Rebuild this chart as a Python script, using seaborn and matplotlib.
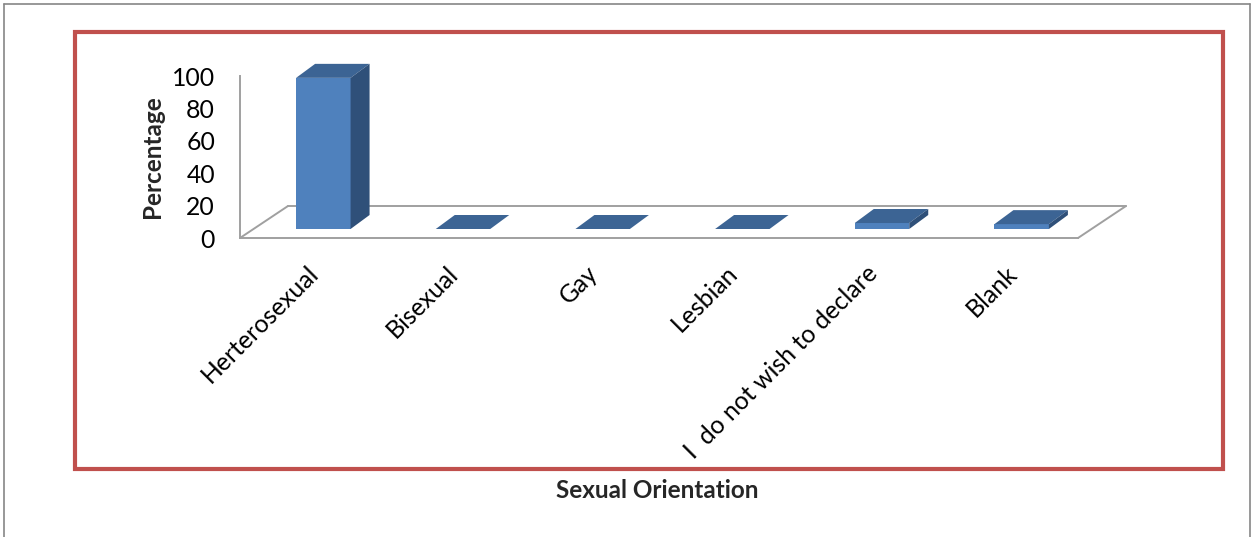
import matplotlib
matplotlib.use("Agg")
import matplotlib.pyplot as plt
import matplotlib.transforms as mtransforms
from matplotlib.patches import Polygon, Rectangle
from matplotlib.lines import Line2D
import seaborn as sns
import pandas as pd

# Survey responses by sexual orientation (percent of respondents)
categories = ["Herterosexual", "Bisexual", "Gay", "Lesbian",
              "I  do not wish to declare", "Blank"]
percentages = [93.3, 0.0, 0.0, 0.0, 3.7, 3.0]
y_ticks = [0, 20, 40, 60, 80, 100]

FRONT = "#4F81BD"
TOP = "#3C6494"
SIDE = "#2F5079"
FLOOR = "#A0A0A0"
FRAME_RED = "#C0504D"

W, H, DPI = 1253, 537, 100
sns.set_theme(style="white")
plt.rcParams["font.family"] = ["Lato", "DejaVu Sans"]

fig = plt.figure(figsize=(W / DPI, H / DPI), dpi=DPI)
fig.patch.set_facecolor("white")

# plot region (front plane of the pseudo-3D box), in pixels from top-left
ax_l, ax_r, ax_t, ax_b = 240, 1078, 76, 238
ax = fig.add_axes([ax_l / W, 1 - ax_b / H, (ax_r - ax_l) / W, (ax_b - ax_t) / H])
ax.set_facecolor("none")

df = pd.DataFrame({"cat": categories, "pct": percentages})
sns.barplot(data=df, x="cat", y="pct", color=FRONT, saturation=1,
            width=0.39, linewidth=0, ax=ax, zorder=3)
ax.set_xlim(-0.5, len(categories) - 0.5)
ax.set_ylim(0, 100)

# pixel -> data conversions for the oblique depth offsets
px_x = (ax_r - ax_l) / (len(categories))
px_y = (ax_b - ax_t) / 100.0


def off(dxp, dyp):
    return dxp / px_x, dyp / px_y


fdx, fdy = off(48, 32)      # floor depth
bsx, bsy = off(13.5, 9)     # bar front face sits partway into the depth
bdx, bdy = off(19, 14)      # bar depth

# floor outline (front edge is the bottom spine)
x0, x1 = -0.5, len(categories) - 0.5
for xs, ys in [([x0, x0 + fdx], [0, fdy]),
               ([x0 + fdx, x1 + fdx], [fdy, fdy]),
               ([x1 + fdx, x1], [fdy, 0])]:
    ax.add_line(Line2D(xs, ys, color=FLOOR, lw=1.4, clip_on=False, zorder=1))

# extrude each seaborn bar into a box
for patch in ax.patches:
    bx = patch.get_x() + bsx
    bw = patch.get_width()
    bh = patch.get_height()
    patch.set_x(bx)
    patch.set_y(bsy)
    patch.set_clip_on(False)
    top = bsy + bh
    ax.add_patch(Polygon([(bx, top), (bx + bw, top), (bx + bw + bdx, top + bdy),
                          (bx + bdx, top + bdy)], closed=True, facecolor=TOP,
                         edgecolor="none", clip_on=False, zorder=4))
    if bh > 0:
        ax.add_patch(Polygon([(bx + bw, bsy), (bx + bw, top), (bx + bw + bdx, top + bdy),
                              (bx + bw + bdx, bsy + bdy)], closed=True, facecolor=SIDE,
                             edgecolor="none", clip_on=False, zorder=4))

# axes styling
for s in ["top", "right"]:
    ax.spines[s].set_visible(False)
for s in ["left", "bottom"]:
    ax.spines[s].set_color(FLOOR)
    ax.spines[s].set_linewidth(1.4)

ax.set_yticks(y_ticks)
ax.set_yticklabels([str(v) for v in y_ticks], fontsize=17.8)
ax.tick_params(axis="y", direction="out", length=5, width=1.2, color=FLOOR,
               pad=13, labelcolor="black")

ax.set_xticks(range(len(categories)))
ax.set_xticks([i - 0.5 for i in range(len(categories) + 1)], minor=True)
ax.tick_params(axis="x", which="major", length=0, pad=17, labelcolor="black")
ax.tick_params(axis="x", which="minor", direction="out", length=5, width=1.2, color=FLOOR)
ax.set_xticklabels(categories, fontsize=17.8, rotation=45, ha="right",
                   rotation_mode="anchor", va="top")
shift = mtransforms.ScaledTranslation(-3 / DPI, 0, fig.dpi_scale_trans)
for lab in ax.get_xticklabels():
    lab.set_transform(lab.get_transform() + shift)

ax.set_xlabel("")
ax.set_ylabel("")
fig.text(152 / W, 1 - 157 / H, "Percentage", rotation=90, ha="center", va="center",
         fontsize=17.5, fontweight="bold")
fig.text(657 / W, 1 - 490 / H, "Sexual Orientation", ha="center", va="center",
         fontsize=17.5, fontweight="bold")

# red plot-area frame and grey outer chart border
fig.add_artist(Rectangle((75 / W, 1 - 469 / H), (1223 - 75) / W, (469 - 32) / H,
                         transform=fig.transFigure, fill=False, edgecolor=FRAME_RED,
                         lw=3.0))
for xs, ys in [([4 / W, 4 / W], [0, 1 - 4 / H]),
               ([4 / W, 1250 / W], [1 - 4 / H, 1 - 4 / H]),
               ([1250 / W, 1250 / W], [1 - 4 / H, 0])]:
    fig.add_artist(Line2D(xs, ys, transform=fig.transFigure, color="#868686", lw=1.2))

fig.savefig("out.png", dpi=DPI)
